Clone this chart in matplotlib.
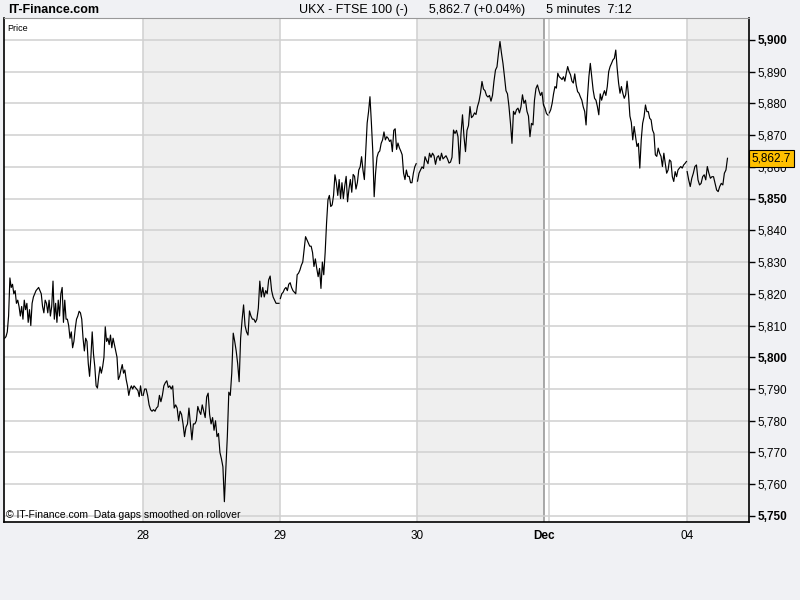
import matplotlib
matplotlib.use("Agg")
import matplotlib.pyplot as plt
import numpy as np
from matplotlib.ticker import MultipleLocator, FuncFormatter

plt.rcParams["font.family"] = ["Liberation Sans Narrow", "Liberation Sans", "DejaVu Sans"]

# 5-minute closes of the UKX (FTSE 100), one list per trading session
d27 = [5806, 5806.5, 5808, 5813, 5825, 5822, 5823, 5820, 5821, 5817, 5818, 5816, 5813, 5816,
       5812, 5818, 5815, 5817, 5811, 5815, 5810, 5817, 5819, 5820, 5821, 5821.5, 5822, 5821,
       5820, 5816, 5814, 5818, 5817, 5814, 5818, 5813, 5816, 5824, 5812, 5817, 5811, 5818,
       5813, 5820, 5822, 5811, 5818, 5812, 5812, 5810, 5806, 5808, 5803, 5805, 5809, 5812,
       5813, 5814.5, 5814, 5812, 5806, 5802, 5806, 5805, 5798, 5794, 5800, 5808, 5801, 5797,
       5791, 5790.3, 5794, 5797, 5795, 5797, 5800, 5809.6, 5805, 5806, 5804, 5807, 5803, 5806,
       5804, 5802, 5800, 5793, 5794, 5796, 5797.7, 5795, 5796, 5793, 5791, 5788, 5790, 5791,
       5790, 5791, 5790.5, 5790, 5789.5, 5787.6, 5791, 5788]
d28 = [5788, 5790, 5790, 5788, 5785, 5783.5, 5783, 5783.5, 5783, 5784, 5784.5, 5788, 5786,
       5788, 5791, 5792, 5792.6, 5790.5, 5791, 5790, 5791, 5784, 5785, 5784, 5780, 5783, 5782,
       5779, 5775, 5778, 5779, 5784, 5779, 5774, 5779, 5779, 5780, 5784.5, 5783, 5782, 5785,
       5783, 5781, 5787.5, 5788.7, 5782, 5779, 5781, 5777, 5780, 5775, 5776, 5770, 5768,
       5765.5, 5754.5, 5765, 5775, 5789, 5788, 5795, 5807.6, 5805, 5802, 5798, 5792.3, 5806,
       5811.8, 5816.5, 5810, 5808, 5807, 5814.6, 5813, 5812, 5812, 5811, 5812, 5815.5, 5824,
       5819, 5822, 5819, 5821, 5820, 5824.4, 5825.6, 5821, 5819, 5818, 5817, 5817, 5817]
d29 = [5818.5, 5820, 5820.5, 5821.5, 5822, 5821, 5823, 5823.5, 5822, 5821, 5820.5, 5820,
       5826, 5826.5, 5827.5, 5829, 5830, 5834, 5838, 5837, 5836, 5835, 5835, 5833, 5828.6,
       5831, 5828, 5825.4, 5828, 5821.7, 5830, 5826, 5833, 5842.3, 5849.6, 5851, 5847.5,
       5848, 5851, 5857.5, 5855, 5851, 5856, 5850, 5855, 5850, 5854, 5857, 5849, 5853, 5856,
       5852, 5857.6, 5857, 5853, 5855, 5859, 5860, 5863.2, 5859, 5856, 5865, 5873.8, 5877.4,
       5882.1, 5874, 5865, 5850.6, 5858, 5863, 5864.5, 5865, 5867.4, 5868.5, 5871, 5868.5,
       5869.5, 5869, 5868, 5868.5, 5864.8, 5871.5, 5872, 5865.5, 5867.5, 5866, 5865, 5863.8,
       5858, 5856, 5859, 5857, 5857, 5855, 5855, 5858, 5860, 5861]
d30 = [5855.5, 5858, 5859, 5860, 5859.5, 5863.2, 5862, 5861, 5864.3, 5863, 5864.3, 5863.5,
       5860.8, 5863, 5863.5, 5862, 5864.3, 5862.5, 5863, 5863.5, 5862.5, 5861.2, 5861.5,
       5863, 5871.6, 5870.5, 5871.5, 5869.5, 5861, 5870.5, 5876.4, 5869.5, 5864.8, 5871.5,
       5873, 5879, 5875.5, 5876, 5877, 5876.5, 5879, 5880.6, 5883.2, 5886.9, 5884.5, 5884,
       5882.5, 5882, 5882.5, 5880.7, 5882.5, 5887, 5890.5, 5891.5, 5895.8, 5899.5, 5895.8,
       5892.6, 5888.4, 5884, 5883, 5879, 5873.7, 5867.4, 5877.5, 5876.5, 5878, 5878.5, 5877,
       5878.9, 5882.7, 5880, 5881, 5877.5, 5876, 5869.5, 5873.7, 5873.2, 5881, 5884.7,
       5885.8, 5884, 5882.5, 5883.5, 5879.5, 5878.5, 5876.8, 5876.3]
d03 = [5877, 5878, 5880, 5883, 5885.3, 5884.8, 5889.5, 5888.4, 5888, 5887.5, 5888.4, 5887,
       5889.5, 5891.6, 5890, 5889, 5887, 5886.4, 5889.3, 5885.8, 5883.7, 5883.2, 5882, 5881,
       5878.9, 5877.5, 5873.2, 5882, 5888.4, 5892.6, 5888.4, 5884.2, 5881.6, 5881, 5879,
       5876.4, 5883, 5881, 5882.7, 5884, 5882.5, 5885.3, 5890, 5891.6, 5892.6, 5893.7, 5894.2,
       5896.8, 5891, 5886.4, 5883.2, 5885.3, 5883.2, 5881.6, 5882.7, 5887, 5882.7, 5876, 5874,
       5868.5, 5872.7, 5869.5, 5866.4, 5867.4, 5859.6, 5868.5, 5873.7, 5875.8, 5879.5, 5877.4,
       5877.4, 5875.3, 5874.8, 5871.6, 5870.5, 5863.8, 5863.3, 5865.9, 5864.3, 5863.3, 5860.1,
       5864.3, 5861.1, 5858, 5859, 5862.2, 5861.7, 5856.9, 5855.4, 5858.5, 5856.9, 5859,
       5859.6, 5860.1, 5859.6, 5860.6, 5861.1, 5861.7]
d04 = [5858.5, 5855.9, 5853.8, 5856.4, 5858, 5860.1, 5860.6, 5855.9, 5854.3, 5854.8, 5856.9,
       5857.5, 5855.9, 5860.1, 5858, 5856.4, 5856.9, 5856.9, 5854.8, 5852.7, 5852.2, 5853.8,
       5854.8, 5854.3, 5858, 5859, 5862.7]

sessions = [d27, d28, d29, d30, d03, d04]
session_bars = [103, 102, 102, 98, 103, 30]  # bars per session (last one still running)
day_labels = ["28", "29", "30", "Dec", "04"]
last_price = 5862.7
title_text = "UKX - FTSE 100 (-)      5,862.7 (+0.04%)      5 minutes  7:12"

starts = np.concatenate([[0], np.cumsum(session_bars)[:-1]])

fig = plt.figure(figsize=(8, 6), dpi=100, facecolor="#f0f1f4")
ax = fig.add_axes([4 / 800, 1 - 522 / 600, 745 / 800, 504 / 600])
ax.set_facecolor("white")

# shaded alternate sessions
for k in (1, 3, 5):
    end = starts[k] + session_bars[k] if k < 5 else 560
    if k == 3:
        end = starts[4] - 3.5
    ax.axvspan(starts[k], end, color="#efefef", zorder=0, lw=0)

for k in range(6):
    vals = sessions[k]
    if k < 5:
        xs = starts[k] + np.linspace(0.5, session_bars[k] - 0.5, len(vals))
    else:
        xs = starts[k] + np.linspace(0, session_bars[k], len(vals))
    ax.plot(xs, vals, color="black", lw=0.85, zorder=3)

# day grid
tick_pos = [starts[1], starts[2], starts[3], starts[4] - 3.5, starts[5]]
for k in range(1, 6):
    ax.axvline(starts[k], color="#d0d0d0", lw=1.1, zorder=1)
ax.axvline(starts[4] - 3.5, color="#999999", lw=1.2, zorder=1)

ax.set_xlim(0, 554)
ax.set_ylim(5748.1, 5906.9)
ax.yaxis.set_major_locator(MultipleLocator(10))
ax.grid(axis="y", color="#d0d0d0", lw=1.1, zorder=1)
ax.yaxis.tick_right()
ax.yaxis.set_major_formatter(FuncFormatter(lambda v, p: f"{v:,.0f}"))
ax.tick_params(axis="y", direction="out", length=4, width=1, labelsize=8.5, pad=2)
for lab, v in zip(ax.get_yticklabels(), ax.get_yticks()):
    if round(v) % 50 == 0:
        lab.set_fontweight("bold")

ax.set_xticks(tick_pos)
ax.set_xticklabels(day_labels, fontsize=8.5)
ax.tick_params(axis="x", length=0, pad=6)
for lab in ax.get_xticklabels():
    if lab.get_text() == "Dec":
        lab.set_fontweight("bold")

for side in ("left", "bottom", "right"):
    ax.spines[side].set_color("black")
    ax.spines[side].set_linewidth(1.2)
ax.spines["top"].set_color("#999999")

ax.text(0.004, 0.988, "Price", transform=ax.transAxes, fontsize=6.5, va="top", ha="left")
ax.text(0.003, 0.004, "\u00a9 IT-Finance.com  Data gaps smoothed on rollover",
        transform=ax.transAxes, fontsize=7.5, va="bottom", ha="left")

ax.annotate(f"{last_price:,.1f}", xy=(1.0, last_price), xycoords=("axes fraction", "data"),
            xytext=(2, 0), textcoords="offset points", va="center", ha="left", fontsize=8.5,
            bbox=dict(boxstyle="square,pad=0.2", fc="#ffc000", ec="black", lw=0.8), zorder=5,
            annotation_clip=False)

fig.text(8 / 800, 1 - 10 / 600, "IT-Finance.com", fontsize=9, fontweight="bold", va="center", ha="left")
fig.text(465 / 800, 1 - 10 / 600, title_text, fontsize=9, va="center", ha="center")

fig.savefig("out.png", dpi=100, facecolor=fig.get_facecolor())
